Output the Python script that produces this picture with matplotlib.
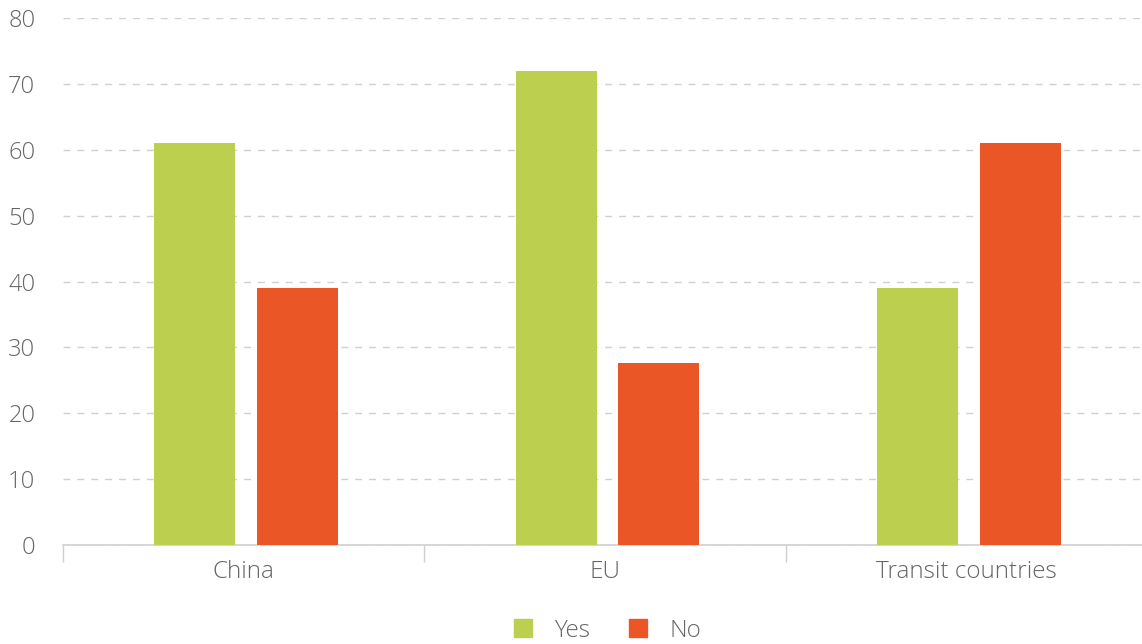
import numpy as np
import matplotlib.pyplot as plt
from matplotlib.patches import Patch

categories = ["China", "EU", "Transit countries"]
yes_values = [61, 72, 39]
no_values = [39, 27.6, 61]
y_ticks = [0, 10, 20, 30, 40, 50, 60, 70, 80]

green = "#bdcf4f"
orange = "#ea5626"
text_col = "#666666"

plt.rcParams['font.family'] = ['Open Sans', 'DejaVu Sans']
plt.rcParams['font.weight'] = 'light'

fig = plt.figure(figsize=(11.42, 6.44), dpi=100)
ax = fig.add_axes([0.0552, 0.1537, 0.9448, 0.8183])

x = np.arange(len(categories))
w = 0.224
ax.bar(x - 0.135, yes_values, w, color=green, zorder=3)
ax.bar(x + 0.148, no_values, w, color=orange, zorder=3)

ax.set_xlim(-0.5, 2.485)
ax.set_ylim(0, 80)
ax.set_yticks(y_ticks)
ax.set_yticklabels([str(v) for v in y_ticks], fontsize=17, color=text_col)
ax.set_xticks(x)
ax.set_xticklabels(categories, fontsize=17.5, color=text_col)
ax.tick_params(axis='y', length=0, pad=20)
ax.tick_params(axis='x', length=0, pad=11)
# group separators
ax.set_xticks([-0.5, 0.5, 1.5], minor=True)
ax.tick_params(axis='x', which='minor', length=12, color="#cfcfcf", width=1)

ax.grid(axis='y', color="#d0d0d0", linestyle=(0, (5, 5)), linewidth=1, zorder=0)
for s in ['top', 'right', 'left']:
    ax.spines[s].set_visible(False)
ax.spines['bottom'].set_color("#cfcfcf")
ax.spines['bottom'].set_linewidth(1.2)

handles = [Patch(color=green, label="Yes"), Patch(color=orange, label="No")]
fig.legend(handles=handles, loc='lower center', bbox_to_anchor=(0.532, -0.032), ncol=2,
           frameon=False, fontsize=17.5, handlelength=0.75, handleheight=0.75,
           columnspacing=1.6, handletextpad=0.9, labelcolor=text_col)

fig.savefig("out.png", dpi=100)
